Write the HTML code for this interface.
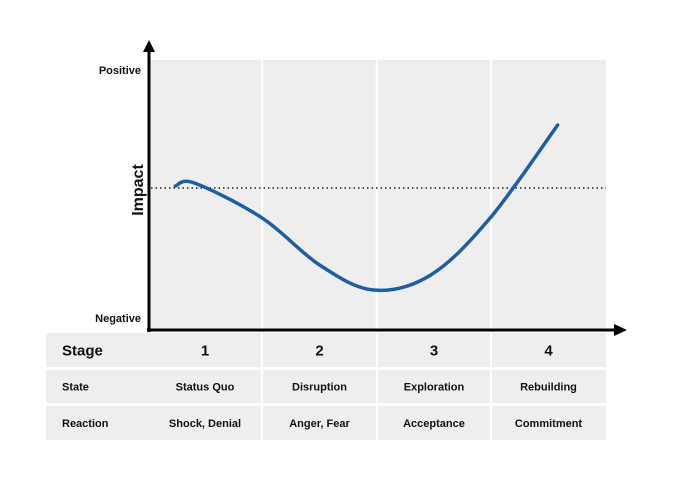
<!DOCTYPE html>
<html><head><meta charset="utf-8"><style>
body{margin:0;background:#fff;font-family:"Liberation Sans",sans-serif;}
svg text{font-family:"Liberation Sans",sans-serif;font-weight:bold;fill:#111;}
</style></head><body>
<svg id="c" width="687" height="482" viewBox="0 0 687 482">
<rect x="151" y="60" width="455" height="270" fill="#eeeeee"/>
<g id="grid"></g>
<g id="table"></g>
<line x1="151" y1="188" x2="606" y2="188" stroke="#222" stroke-width="1.5" stroke-dasharray="1.5,3"/>
<path id="curve" fill="none" stroke="#1f5fa0" stroke-width="3.5" stroke-linecap="round"/>
<line x1="149" y1="50" x2="149" y2="332" stroke="#000" stroke-width="3"/>
<polygon points="149,40 143,52 155,52" fill="#000"/>
<line x1="147" y1="330" x2="616" y2="330" stroke="#000" stroke-width="3"/>
<polygon points="627,330 614,324 614,336" fill="#000"/>
<text x="141" y="74" text-anchor="end" font-size="11">Positive</text>
<text x="141" y="322" text-anchor="end" font-size="11">Negative</text>
<text transform="translate(143,190) rotate(-90)" text-anchor="middle" font-size="16">Impact</text>
</svg>
<script>
const stages=["1","2","3","4"];
const states=["Status Quo","Disruption","Exploration","Rebuilding"];
const reactions=["Shock, Denial","Anger, Fear","Acceptance","Commitment"];
const curveStage=[0.74,0.91,1.5,2.0,2.47,2.97,3.49,4.08];
const curveImpact=[53.2,54.4,40.3,21.4,11.3,17.3,40.3,77.8];
const NS="http://www.w3.org/2000/svg";
const xs=s=>205+(s-1)*114.5;
const ys=v=>318-2.48*v;
function mk(tag,attrs,parent){const e=document.createElementNS(NS,tag);for(const k in attrs)e.setAttribute(k,attrs[k]);parent.appendChild(e);return e;}
const grid=document.getElementById('grid');
[1.5,2.5,3.5].forEach(s=>{const l=mk('line',{x1:xs(s),x2:xs(s),y1:60,y2:330,stroke:'#fff','stroke-width':2},grid);

});
const tb=document.getElementById('table');
const rows=[{y:333,h:34,label:"Stage",vals:stages,fs:15,lfs:15},{y:370,h:33,label:"State",vals:states,fs:11,lfs:11},{y:406,h:34,label:"Reaction",vals:reactions,fs:11,lfs:11}];
const cols=[[46,261],[263,376],[378,490],[492,606]];
rows.forEach((r,ri)=>{
 cols.forEach((c,ci)=>{const rc=mk('rect',{x:c[0],y:r.y,width:c[1]-c[0],height:r.h,fill:'#eeeeee'},tb);
 
 
 const t=mk('text',{x:xs(ci+1),y:r.y+r.h/2+r.fs*0.36,'text-anchor':'middle','font-size':r.fs},tb);t.textContent=r.vals[ci];
 
 });
 const lt=mk('text',{x:62,y:r.y+r.h/2+r.lfs*0.36,'font-size':r.lfs},tb);lt.textContent=r.label;
 
 
});
const P=curveStage.map((s,i)=>[xs(s),ys(curveImpact[i])]);
let d=`M${P[0][0]},${P[0][1]}`;
for(let i=0;i<P.length-1;i++){const p0=P[i-1]||P[i],p1=P[i],p2=P[i+1],p3=P[i+2]||P[i+1];
 d+=` C${p1[0]+(p2[0]-p0[0])/6},${p1[1]+(p2[1]-p0[1])/6} ${p2[0]-(p3[0]-p1[0])/6},${p2[1]-(p3[1]-p1[1])/6} ${p2[0]},${p2[1]}`;}
document.getElementById('curve').setAttribute('d',d);
</script>
</body></html>
